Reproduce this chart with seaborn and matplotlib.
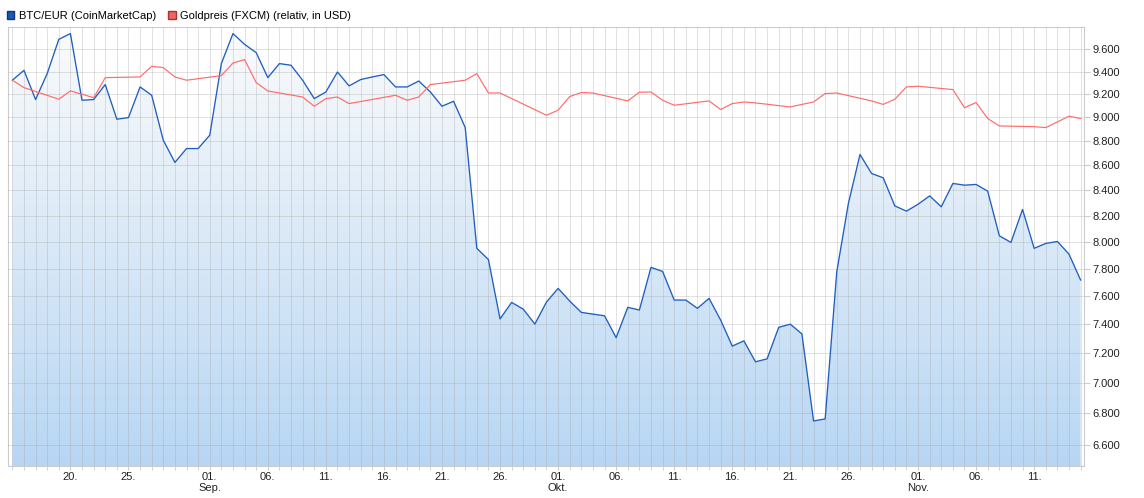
import numpy as np
import pandas as pd
import seaborn as sns
import matplotlib.pyplot as plt
from matplotlib.patches import Patch
from matplotlib.ticker import FixedLocator, FuncFormatter, NullLocator
import matplotlib.dates as mdates

## Data (daily, 15 Aug 2019 - 15 Nov 2019)
dates = pd.date_range('2019-08-15', '2019-11-15', freq='D')

btc_eur = [9323, 9411, 9154, 9382, 9691, 9744, 9148, 9154, 9285, 8985,
           8999, 9264, 9191, 8808, 8625, 8739, 8739, 8850, 9471, 9744,
           9645, 9570, 9346, 9471, 9456, 9323, 9162, 9220, 9396, 9273,
           9329, 9352, 9373, 9264, 9264, 9316, 9220, 9096, 9139, 8915,
           7951, 7867, 7437, 7554, 7506, 7401, 7557, 7655, 7564, 7483,
           7471, 7459, 7306, 7519, 7500, 7809, 7779, 7571, 7571, 7512,
           7583, 7429, 7248, 7284, 7141, 7161, 7378, 7400, 7332, 6752,
           6765, 7777, 8296, 8690, 8535, 8500, 8277, 8236, 8290, 8356,
           8270, 8455, 8441, 8447, 8393, 8046, 7996, 8249, 7951, 7988,
           8003, 7907, 7716]

# gold price rebased to the BTC start value, no quotes on weekends
gold_rel = [9323, 9258, None, None, 9157, 9229, 9200, 9170, 9346, None,
            None, 9352, 9447, 9435, 9352, 9323, None, None, 9364, 9476,
            9507, 9302, 9229, None, None, 9176, 9096, 9162, 9176, 9119,
            None, None, 9173, 9191, 9148, 9176, 9285, None, None, 9323,
            9382, 9211, 9211, None, None, None, 9019, 9062, 9180, 9215,
            9211, None, None, 9142, 9218, 9220, 9148, 9105, None, None,
            9142, 9068, 9119, 9133, 9125, None, None, 9090, 9112, 9133,
            9206, 9211, None, None, 9142, 9112, 9157, 9264, 9270, None,
            None, 9241, 9084, 9128, 8991, 8928, None, None, 8922, 8914,
            8962, 9011, 8991]

tick_dates = pd.to_datetime(['2019-08-20', '2019-08-25', '2019-09-01', '2019-09-06',
                             '2019-09-11', '2019-09-16', '2019-09-21', '2019-09-26',
                             '2019-10-01', '2019-10-06', '2019-10-11', '2019-10-16',
                             '2019-10-21', '2019-10-26', '2019-11-01', '2019-11-06',
                             '2019-11-11'])
month_names = {9: 'Sep.', 10: 'Okt.', 11: 'Nov.'}
y_ticks = list(range(6600, 9601, 200))

label_btc = 'BTC/EUR (CoinMarketCap)'
label_gold = 'Goldpreis (FXCM) (relativ, in USD)'

df = pd.DataFrame({'date': dates, 'btc': btc_eur, 'gold': gold_rel})
df['gold'] = df['gold'].astype(float)
gold_df = df.dropna(subset=['gold'])

plt.rcParams['font.family'] = ['Liberation Sans', 'DejaVu Sans']

fig = plt.figure(figsize=(11.44, 4.98), dpi=100)
ax = fig.add_axes([8 / 1144, 32 / 498, 1076 / 1144, 439 / 498])
ax.set_yscale('log')

y_lo, y_hi = 6470, 9805
x_lo = dates[0] - pd.Timedelta(hours=9)
x_hi = dates[-1] + pd.Timedelta(hours=7)

## Gradient area under the BTC line
fill = ax.fill_between(df['date'], df['btc'], 6000, facecolor='none', edgecolor='none')
top = np.array([0.985, 0.985, 0.985])
bot = np.array([0.72, 0.84, 0.955])
grad = np.linspace(0, 1, 256)[:, None, None]
rgb = top + (bot - top) * grad
ax.set_autoscale_on(False)
im = ax.imshow(rgb, extent=[0, 1, 0, 1], transform=ax.transAxes,
               aspect='auto', origin='upper', zorder=1)
im.set_clip_path(fill.get_paths()[0], transform=ax.transData)

## Lines
sns.lineplot(data=df, x='date', y='btc', ax=ax, color='#1f5fbf', linewidth=0.95, zorder=3)
sns.lineplot(data=gold_df, x='date', y='gold', ax=ax, color='#ff6b6b', linewidth=0.85, zorder=3)

ax.set_xlim(x_lo, x_hi)
ax.set_ylim(y_lo, y_hi)
ax.set_xlabel('')
ax.set_ylabel('')

## Axes formatting
ax.yaxis.tick_right()
ax.yaxis.set_major_locator(FixedLocator(y_ticks))
ax.yaxis.set_minor_locator(NullLocator())
ax.yaxis.set_major_formatter(FuncFormatter(lambda v, _: f'{int(round(v)):,}'.replace(',', '.')))

ax.xaxis.set_major_locator(FixedLocator(mdates.date2num(tick_dates)))
ax.xaxis.set_minor_locator(mdates.DayLocator())
xlabels = [f'{d.day:02d}.' + ('\n' + month_names[d.month] if d.day == 1 else '') for d in tick_dates]
ax.set_xticklabels(xlabels)

# grid sits on top of the gradient, semi transparent like the original
ax.set_axisbelow(False)
ax.grid(which='both', axis='x', color='#a0a0a0', alpha=0.3, linewidth=0.72, zorder=2)
ax.grid(which='major', axis='y', color='#a0a0a0', alpha=0.3, linewidth=0.72, zorder=2)

ax.tick_params(axis='y', which='major', length=4, color='#cccccc', labelsize=8, pad=2, labelcolor='#222222')
ax.tick_params(axis='x', which='both', length=3, color='#cccccc', labelsize=8, pad=1, labelcolor='#222222')
for s in ax.spines.values():
    s.set_color('#cccccc')
    s.set_linewidth(0.8)

## Legend
handles = [Patch(facecolor='#1a57b8', edgecolor='#15356b', label=label_btc),
           Patch(facecolor='#f26464', edgecolor='#a83232', label=label_gold)]
fig.legend(handles=handles, loc='upper left', bbox_to_anchor=(0.0018, 0.987), ncol=2,
           frameon=False, fontsize=8, handlelength=0.7, handleheight=0.7,
           handletextpad=0.4, columnspacing=1.1, borderaxespad=0.2, borderpad=0.2)

fig.savefig('out.png', dpi=100)
